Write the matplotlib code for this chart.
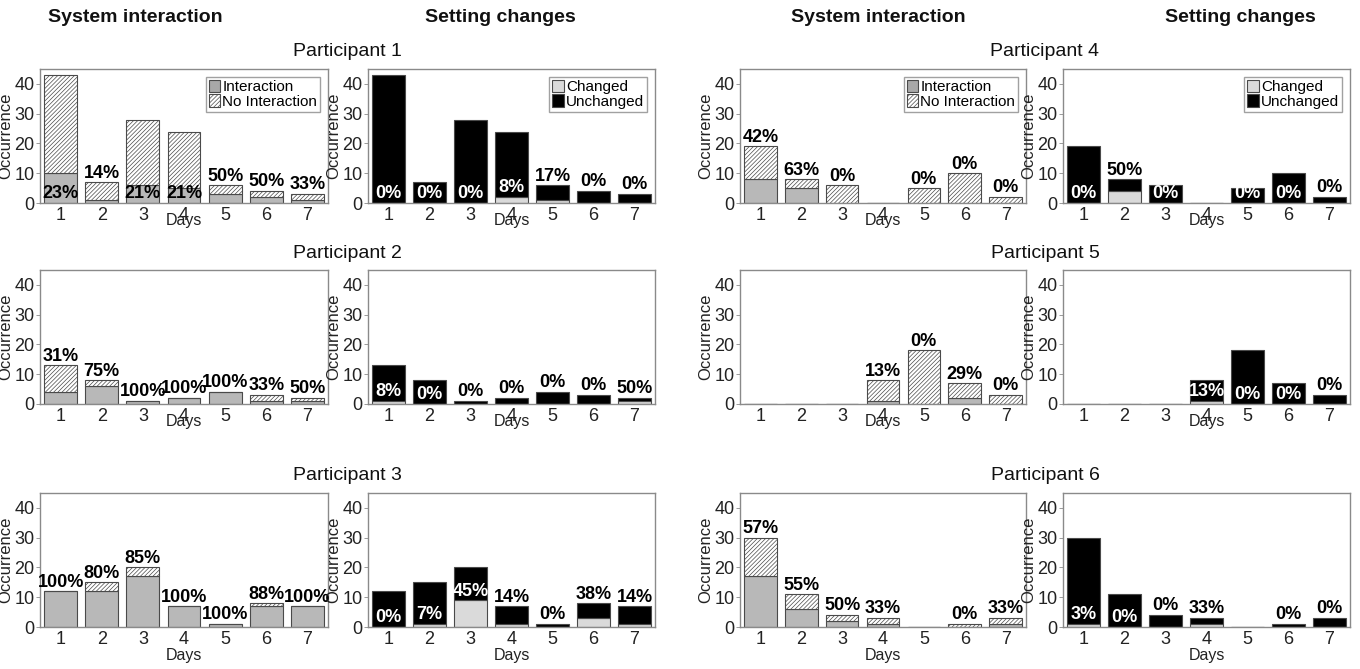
import numpy as np
import matplotlib
matplotlib.use('Agg')
import matplotlib.pyplot as plt
from matplotlib.patches import Patch

plt.rcParams['font.family'] = ['Liberation Sans', 'DejaVu Sans']
plt.rcParams['hatch.linewidth'] = 0.5

# daily counts per participant

days = [1, 2, 3, 4, 5, 6, 7]
participants = ['Participant 1', 'Participant 2', 'Participant 3',
                'Participant 4', 'Participant 5', 'Participant 6']

totals = [
    [43, 7, 28, 24, 6, 4, 3],
    [13, 8, 1, 2, 4, 3, 2],
    [12, 15, 20, 7, 1, 8, 7],
    [19, 8, 6, 0, 5, 10, 2],
    [0, 0, 0, 8, 18, 7, 3],
    [30, 11, 4, 3, 0, 1, 3],
]
interaction = [
    [10, 1, 6, 5, 3, 2, 1],
    [4, 6, 1, 2, 4, 1, 1],
    [12, 12, 17, 7, 1, 7, 7],
    [8, 5, 0, 0, 0, 0, 0],
    [0, 0, 0, 1, 0, 2, 0],
    [17, 6, 2, 1, 0, 0, 1],
]
changed = [
    [0, 0, 0, 2, 1, 0, 0],
    [1, 0, 0, 0, 0, 0, 1],
    [0, 1, 9, 1, 0, 3, 1],
    [0, 4, 0, 0, 0, 0, 0],
    [0, 0, 0, 1, 0, 0, 0],
    [1, 0, 0, 1, 0, 0, 0],
]

# colours

c_inter = '#b8b8b8'
c_changed = '#dadada'
c_unchanged = '#000000'
c_edge = '#4a4a4a'
c_spine = '#8a8a8a'
hatch = '////////'

W, H = 1360, 669
fig = plt.figure(figsize = (W / 100, H / 100), dpi = 100)

col_left = [40, 368, 740, 1063]
col_width = [288, 287, 286, 287]
row_top = [69, 270, 493]
row_h = 134


def pct(part, whole):
    return '%d%%' % int(part * 100.0 / whole + 0.5)


def style_axes(ax, last_row):
    ax.set_xlim(0.5, 7.5)
    ax.set_ylim(0, 45)
    ax.set_xticks(days)
    ax.set_yticks([0, 10, 20, 30, 40])
    ax.tick_params(axis = 'x', length = 0, labelsize = 13, pad = 3, colors = '#222222')
    ax.tick_params(axis = 'y', length = 3, width = 0.6, labelsize = 13, pad = 1,
                   color = c_spine, labelcolor = '#222222')
    for s in ax.spines.values():
        s.set_color(c_spine)
        s.set_linewidth(1.0)
    ax.set_ylabel('Occurrence', fontsize = 12, labelpad = 1, color = '#222222')
    ax.set_xlabel('Days', fontsize = 11.5, labelpad = 0 if last_row else -8, color = '#222222')


def draw_interaction(ax, tot, inter, legend):
    tot = np.array(tot)
    inter = np.array(inter)
    ax.bar(days, inter, width = 0.8, color = c_inter, edgecolor = c_edge, linewidth = 0.8)
    ax.bar(days, tot - inter, bottom = inter, width = 0.8, color = 'white',
           edgecolor = c_edge, linewidth = 0.8, hatch = hatch)
    for d, t, i in zip(days, tot, inter):
        if t == 0:
            continue
        # long bars with a small interaction share carry the label at their foot
        if t >= 20 and i / t < 0.5:
            ax.text(d, 0.2, pct(i, t), ha = 'center', va = 'bottom',
                    fontsize = 13, fontweight = 'bold', color = 'black')
        else:
            ax.text(d, t + 0.2, pct(i, t), ha = 'center', va = 'bottom',
                    fontsize = 13, fontweight = 'bold', color = 'black')
    if legend:
        handles = [Patch(facecolor = '#a8a8a8', edgecolor = c_edge, linewidth = 0.8),
                   Patch(facecolor = 'white', edgecolor = c_edge, linewidth = 0.8, hatch = hatch)]
        ax.legend(handles, ['Interaction', 'No Interaction'], loc = 'upper right',
                  fontsize = 11, frameon = True, fancybox = False, edgecolor = c_spine,
                  handlelength = 0.75, handleheight = 0.9, handletextpad = 0.15,
                  labelspacing = 0.0, borderpad = 0.2, borderaxespad = 0.5)


def draw_setting(ax, tot, chg, legend):
    tot = np.array(tot)
    chg = np.array(chg)
    ax.bar(days, chg, width = 0.8, color = c_changed, edgecolor = c_edge, linewidth = 0.8)
    ax.bar(days, tot - chg, bottom = chg, width = 0.8, color = c_unchanged,
           edgecolor = c_edge, linewidth = 0.8)
    for d, t, c in zip(days, tot, chg):
        if t == 0:
            continue
        room = t - c
        fits = room >= (5 if c == 0 else 7)
        if fits:
            ax.text(d, c + 0.2, pct(c, t), ha = 'center', va = 'bottom',
                    fontsize = 13, fontweight = 'bold', color = 'white')
        else:
            ax.text(d, t + 0.2, pct(c, t), ha = 'center', va = 'bottom',
                    fontsize = 13, fontweight = 'bold', color = 'black')
    if legend:
        handles = [Patch(facecolor = c_changed, edgecolor = c_edge, linewidth = 0.8),
                   Patch(facecolor = c_unchanged, edgecolor = c_edge, linewidth = 0.8)]
        ax.legend(handles, ['Changed', 'Unchanged'], loc = 'upper right',
                  fontsize = 11, frameon = True, fancybox = False, edgecolor = c_spine,
                  handlelength = 0.75, handleheight = 0.9, handletextpad = 0.15,
                  labelspacing = 0.0, borderpad = 0.2, borderaxespad = 0.5)


for p in range(6):
    row = p % 3
    side = p // 3
    top = row_top[row]
    axes = []
    for k in range(2):
        col = side * 2 + k
        ax = fig.add_axes([col_left[col] / W, 1 - (top + row_h) / H,
                           col_width[col] / W, row_h / H])
        axes.append(ax)
    draw_interaction(axes[0], totals[p], interaction[p], legend = (row == 0))
    draw_setting(axes[1], totals[p], changed[p], legend = (row == 0))
    for ax in axes:
        style_axes(ax, row == 2)
    # participant title centred over the pair
    x0 = col_left[side * 2]
    x1 = col_left[side * 2 + 1] + col_width[side * 2 + 1]
    fig.text((x0 + x1) / 2 / W, 1 - (top - 17) / H, participants[p],
             ha = 'center', va = 'center', fontsize = 14, color = '#111111')

# column headers
for x, label in zip([135, 500, 878, 1240],
                    ['System interaction', 'Setting changes', 'System interaction', 'Setting changes']):
    fig.text(x / W, 1 - 18 / H, label, ha = 'center', va = 'center',
             fontsize = 14, fontweight = 'bold', color = '#111111')

fig.savefig('out.png', dpi = 100)
